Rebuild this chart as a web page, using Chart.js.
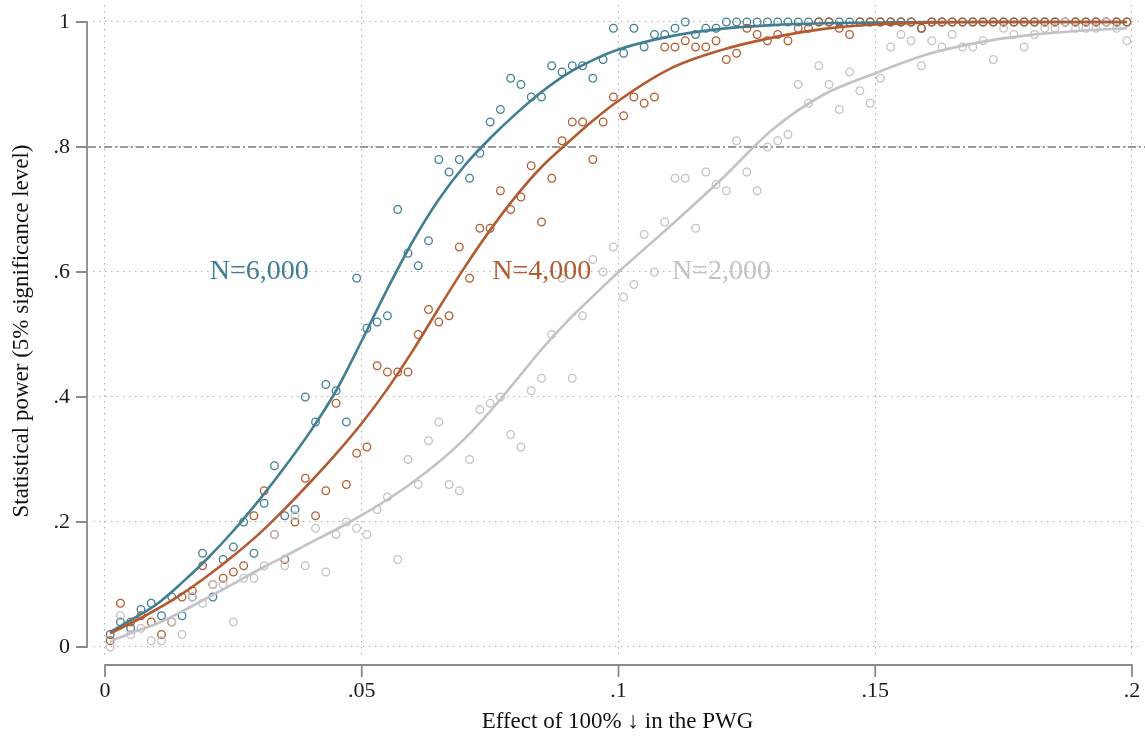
<!DOCTYPE html>
<html>
<head>
<meta charset="utf-8">
<title>Statistical power by effect size</title>
<script src="https://cdn.jsdelivr.net/npm/chart.js@4.4.1/dist/chart.umd.min.js"></script>
<style>
  html, body { margin: 0; padding: 0; background: #fff; }
  #wrap { width: 1145px; height: 740px; }
</style>
</head>
<body>
<div id="wrap"><canvas id="power" width="1145" height="740"></canvas></div>
<script>
// simulated effect sizes (x) and share of significant draws per sample size
const effect = [
  0.001, 0.003, 0.005, 0.007, 0.009, 0.011, 0.013, 0.015, 0.017, 0.019,
  0.021, 0.023, 0.025, 0.027, 0.029, 0.031, 0.033, 0.035, 0.037, 0.039,
  0.041, 0.043, 0.045, 0.047, 0.049, 0.051, 0.053, 0.055, 0.057, 0.059,
  0.061, 0.063, 0.065, 0.067, 0.069, 0.071, 0.073, 0.075, 0.077, 0.079,
  0.081, 0.083, 0.085, 0.087, 0.089, 0.091, 0.093, 0.095, 0.097, 0.099,
  0.101, 0.103, 0.105, 0.107, 0.109, 0.111, 0.113, 0.115, 0.117, 0.119,
  0.121, 0.123, 0.125, 0.127, 0.129, 0.131, 0.133, 0.135, 0.137, 0.139,
  0.141, 0.143, 0.145, 0.147, 0.149, 0.151, 0.153, 0.155, 0.157, 0.159,
  0.161, 0.163, 0.165, 0.167, 0.169, 0.171, 0.173, 0.175, 0.177, 0.179,
  0.181, 0.183, 0.185, 0.187, 0.189, 0.191, 0.193, 0.195, 0.197, 0.199
];
const power6000 = [
  .02, .04, .03, .06, .07, .05, .08, .05, .08, .15,
  .08, .14, .16, .20, .15, .23, .29, .21, .22, .40,
  .36, .42, .41, .36, .59, .51, .52, .53, .70, .63,
  .61, .65, .78, .76, .78, .75, .79, .84, .86, .91,
  .90, .88, .88, .93, .92, .93, .93, .91, .94, .99,
  .95, .99, .96, .98, .98, .99, 1, .98, .99, .99,
  1, 1, 1, 1, 1, 1, 1, 1, 1, 1,
  1, 1, 1, 1, 1, 1, 1, 1, 1, .99,
  1, 1, 1, 1, 1, 1, 1, 1, 1, 1,
  1, 1, 1, 1, 1, 1, 1, 1, 1, 1
];
const power4000 = [
  .01, .07, .04, .05, .04, .02, .04, .08, .09, .13,
  .10, .11, .12, .13, .21, .25, .18, .14, .20, .27,
  .21, .25, .39, .26, .31, .32, .45, .44, .44, .44,
  .50, .54, .52, .53, .64, .59, .67, .67, .73, .70,
  .72, .77, .68, .75, .81, .84, .84, .78, .84, .88,
  .85, .88, .87, .88, .96, .96, .97, .96, .96, .97,
  .94, .95, .99, .98, .97, .98, .97, .99, .99, 1,
  1, .99, .98, 1, 1, 1, 1, 1, 1, .99,
  1, 1, 1, 1, 1, 1, 1, 1, 1, 1,
  1, 1, 1, 1, 1, 1, 1, 1, 1, 1
];
const power2000 = [
  0, .05, .02, .03, .01, .01, .04, .02, .08, .07,
  .10, .10, .04, .11, .11, .13, .18, .13, .21, .13,
  .19, .12, .18, .20, .19, .18, .22, .24, .14, .30,
  .26, .33, .36, .26, .25, .30, .38, .39, .40, .34,
  .32, .41, .43, .50, .59, .43, .53, .62, .60, .64,
  .56, .58, .66, .60, .68, .75, .75, .67, .76, .74,
  .73, .81, .76, .73, .80, .81, .82, .90, .87, .93,
  .90, .86, .92, .89, .87, .91, .96, .98, .97, .93,
  .97, .96, .98, .96, .96, .97, .94, .99, .98, .96,
  .98, .99, .99, 1, .99, .99, .99, 1, .99, .97
];

// smoothed fit
const fitX = [0.001, 0.005, 0.01, 0.015, 0.02, 0.025, 0.03, 0.035, 0.04, 0.045,
  0.05, 0.055, 0.06, 0.065, 0.07, 0.075, 0.08, 0.085, 0.09, 0.095,
  0.10, 0.11, 0.12, 0.13, 0.14, 0.15, 0.16, 0.17, 0.18, 0.19, 0.199];
const fit6000 = [.024, .043, .068, .103, .142, .186, .235, .288, .345, .41,
  .49, .573, .65, .716, .77, .814, .853, .888, .917, .939,
  .956, .977, .989, .995, .998, .999, 1, 1, 1, 1, 1];
const fit4000 = [.022, .038, .06, .085, .114, .146, .181, .221, .264, .309,
  .358, .413, .475, .542, .607, .667, .721, .768, .806, .842,
  .874, .925, .955, .975, .989, .996, .999, 1, 1, 1, 1];
const fit2000 = [.009, .022, .037, .057, .079, .101, .124, .145, .167, .188,
  .211, .236, .264, .296, .333, .377, .426, .476, .521, .561,
  .60, .673, .748, .828, .884, .918, .948, .967, .979, .986, .99];

const xTicks = [0, 0.05, 0.1, 0.15, 0.2];
const xTickLabels = ['0', '.05', '.1', '.15', '.2'];
const yTicks = [0, 0.2, 0.4, 0.6, 0.8, 1];
const yTickLabels = ['0', '.2', '.4', '.6', '.8', '1'];
const threshold = 0.8;

const seriesNames = ['N=6,000', 'N=4,000', 'N=2,000'];
const nameX = [0.0204, 0.0754, 0.1104];
const nameY = 0.6;

const serif = "'Liberation Serif', 'DejaVu Serif', serif";
const blue = '#417e92', orange = '#b35a31', grey = '#c2c2c7';

const circles = (label, vals, color) => ({
  type: 'scatter',
  label: label,
  data: effect.map((x, i) => ({ x: x, y: vals[i] })),
  pointStyle: 'circle',
  pointRadius: 3.8,
  pointBorderWidth: 1.3,
  borderColor: color,
  backgroundColor: 'rgba(0,0,0,0)',
  showLine: false
});
const curve = (label, vals, color) => ({
  type: 'line',
  label: label,
  data: fitX.map((x, i) => ({ x: x, y: vals[i] })),
  borderColor: color,
  borderWidth: 2.6,
  pointRadius: 0,
  cubicInterpolationMode: 'monotone',
  fill: false
});

// axis lines sit a few pixels off the plot region, Stata style
const offsetAxes = {
  id: 'offsetAxes',
  afterDraw(chart) {
    const { ctx, chartArea, scales } = chart;
    const ax = chartArea.left - 6, ay = chartArea.bottom + 8;
    ctx.save();
    ctx.strokeStyle = '#8a8a8a';
    ctx.lineWidth = 1.8;
    ctx.beginPath();
    ctx.moveTo(ax, scales.y.getPixelForValue(yTicks[0]));
    ctx.lineTo(ax, scales.y.getPixelForValue(yTicks[yTicks.length - 1]));
    yTicks.forEach(v => {
      const py = scales.y.getPixelForValue(v);
      ctx.moveTo(ax - 11, py);
      ctx.lineTo(ax + 0.9, py);
    });
    ctx.moveTo(scales.x.getPixelForValue(xTicks[0]), ay);
    ctx.lineTo(scales.x.getPixelForValue(xTicks[xTicks.length - 1]), ay);
    xTicks.forEach(v => {
      const px = scales.x.getPixelForValue(v);
      ctx.moveTo(px, ay - 0.9);
      ctx.lineTo(px, ay + 12);
    });
    ctx.stroke();
    ctx.restore();
  }
};

const powerLine = {
  id: 'powerLine',
  beforeDatasetsDraw(chart) {
    const { ctx, chartArea, scales } = chart;
    const py = scales.y.getPixelForValue(threshold);
    ctx.save();
    ctx.strokeStyle = '#7d7d7d';
    ctx.lineWidth = 1.5;
    ctx.setLineDash([8, 3, 2, 3]);
    ctx.beginPath();
    ctx.moveTo(chartArea.left - 5, py);
    ctx.lineTo(chart.width, py);
    ctx.stroke();
    ctx.restore();
  }
};

const seriesLabels = {
  id: 'seriesLabels',
  afterDatasetsDraw(chart) {
    const { ctx, scales } = chart;
    const colors = [blue, orange, grey];
    ctx.save();
    ctx.font = '28px ' + serif;
    ctx.textAlign = 'left';
    ctx.textBaseline = 'middle';
    seriesNames.forEach((t, i) => {
      ctx.fillStyle = colors[i];
      ctx.fillText(t, scales.x.getPixelForValue(nameX[i]), scales.y.getPixelForValue(nameY));
    });
    ctx.restore();
  }
};

new Chart(document.getElementById('power'), {
  data: {
    datasets: [
      curve('fit 2,000', fit2000, grey),
      curve('fit 4,000', fit4000, orange),
      curve('fit 6,000', fit6000, blue),
      circles('N=2,000', power2000, grey),
      circles('N=4,000', power4000, orange),
      circles('N=6,000', power6000, blue)
    ]
  },
  options: {
    responsive: false,
    animation: false,
    layout: { autoPadding: false, padding: { left: 0, top: 5, right: 3, bottom: 0 } },
    plugins: { legend: { display: false }, tooltip: { enabled: false } },
    scales: {
      x: {
        type: 'linear',
        min: -0.00234,
        max: 0.20195,
        afterBuildTicks: s => { s.ticks = xTicks.map(v => ({ value: v })); },
        afterFit: s => { s.height = 83; s.paddingLeft = 0; s.paddingRight = 0; },
        grid: { color: '#b0b0b0', lineWidth: 1.1, drawTicks: false },
        border: { display: false, dash: [1.5, 4.5] },
        ticks: {
          padding: 21, maxRotation: 0, autoSkip: false, color: '#1a1a1a',
          font: { family: serif, size: 22 },
          callback: (v, i) => xTickLabels[i]
        },
        title: {
          display: true, text: 'Effect of 100% \u2193 in the PWG', color: '#111',
          font: { family: serif, size: 23 }, padding: { top: 0, bottom: 4 }
        }
      },
      y: {
        type: 'linear',
        min: -0.016,
        max: 1.0272,
        afterBuildTicks: s => { s.ticks = yTicks.map(v => ({ value: v })); },
        afterFit: s => { s.width = 93; s.paddingTop = 0; s.paddingBottom = 0; },
        grid: { color: '#b0b0b0', lineWidth: 1.1, drawTicks: false },
        border: { display: false, dash: [1.5, 4.5] },
        ticks: {
          padding: 23, color: '#1a1a1a',
          font: { family: serif, size: 22 },
          callback: (v, i) => yTickLabels[i]
        },
        title: {
          display: true, text: 'Statistical power (5% significance level)', color: '#111',
          font: { family: serif, size: 23 }, padding: { top: 8, bottom: 0 }
        }
      }
    }
  },
  plugins: [powerLine, seriesLabels, offsetAxes]
});
</script>
</body>
</html>
